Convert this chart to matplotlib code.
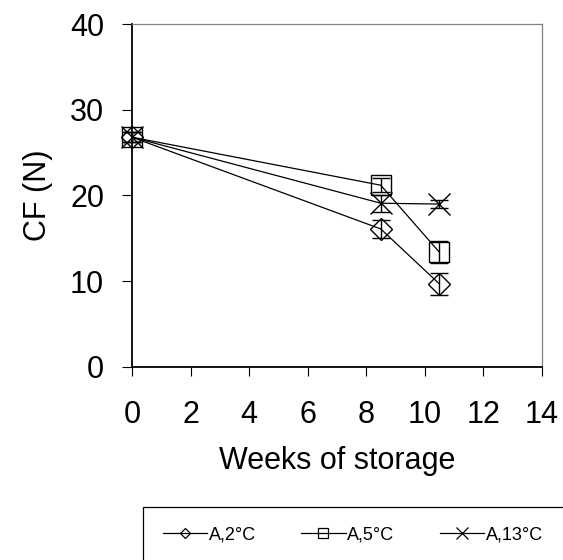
import matplotlib
matplotlib.use("Agg")
import matplotlib.pyplot as plt
from matplotlib.lines import Line2D
from matplotlib.patches import Rectangle

plt.rcParams['font.family'] = ['Liberation Sans', 'DejaVu Sans']

# Weeks of storage and compression force (N) per storage temperature
weeks = [0, 8.5, 10.5]
labels = ["A,2°C", "A,5°C", "A,13°C"]
cf_2 = [26.8, 16.1, 9.7]
err_2 = [0.6, 1.1, 1.3]
cf_5 = [26.8, 21.2, 13.4]
err_5 = [0.6, 0.8, 1.3]
cf_13 = [26.8, 19.1, 19.0]
err_13 = [0.6, 1.0, 0.5]

x_ticks = [0, 2, 4, 6, 8, 10, 12, 14]
y_ticks = [0, 10, 20, 30, 40]

series = [
    (cf_2, err_2, 'D', 11.2, 5.5),
    (cf_5, err_5, 's', 14.0, 7.0),
    (cf_13, err_13, 'x', 16.0, 8.0),
]

fig = plt.figure(figsize=(5.63, 5.60), dpi=100)
ax = fig.add_axes([132 / 563, 1 - 367 / 560, (541.7 - 132) / 563, (367 - 24) / 560])

handles = []
for (vals, errs, mk, ms, lms), lab in zip(series, labels):
    ax.errorbar(weeks, vals, yerr=errs, color='black', lw=0.9,
                marker=mk, ms=ms, mfc='none', mec='black', mew=1.0,
                capsize=6.5, capthick=1.0, elinewidth=1.0, clip_on=False)
    handles.append(Line2D([0], [0], color='black', lw=0.9, marker=mk,
                          ms=lms, mfc='none', mec='black', mew=0.9, label=lab))

ax.set_xlim(0, 14)
ax.set_ylim(0, 40)
ax.set_xticks(x_ticks)
ax.set_yticks(y_ticks)
ax.tick_params(axis='x', direction='out', length=6.5, width=0.8,
               labelsize=22, pad=17)
ax.tick_params(axis='y', direction='out', length=7, width=0.8,
               labelsize=22, pad=13)

for side in ('left', 'bottom'):
    ax.spines[side].set_color('black')
    ax.spines[side].set_linewidth(1.3)
for side in ('top', 'right'):
    ax.spines[side].set_color('#808080')
    ax.spines[side].set_linewidth(0.9)

ax.set_xlabel("Weeks of storage", fontsize=22, labelpad=12)
ax.set_ylabel("CF (N)", fontsize=22, labelpad=12)

# Legend frame running off the lower right of the figure
frame = Rectangle((143 / 563, -0.05), 1.0, 1 - 507 / 560 + 0.05,
                  transform=fig.transFigure, fill=False, edgecolor='black',
                  lw=0.9, clip_on=False)
fig.add_artist(frame)

fig.legend(handles=handles, loc='center left', ncol=3, frameon=False,
           bbox_to_anchor=(163 / 563, 1 - 535 / 560), borderaxespad=0,
           borderpad=0, fontsize=13, handlelength=2.45, handletextpad=0.1,
           columnspacing=2.5)

fig.savefig("out.png", dpi=100)
